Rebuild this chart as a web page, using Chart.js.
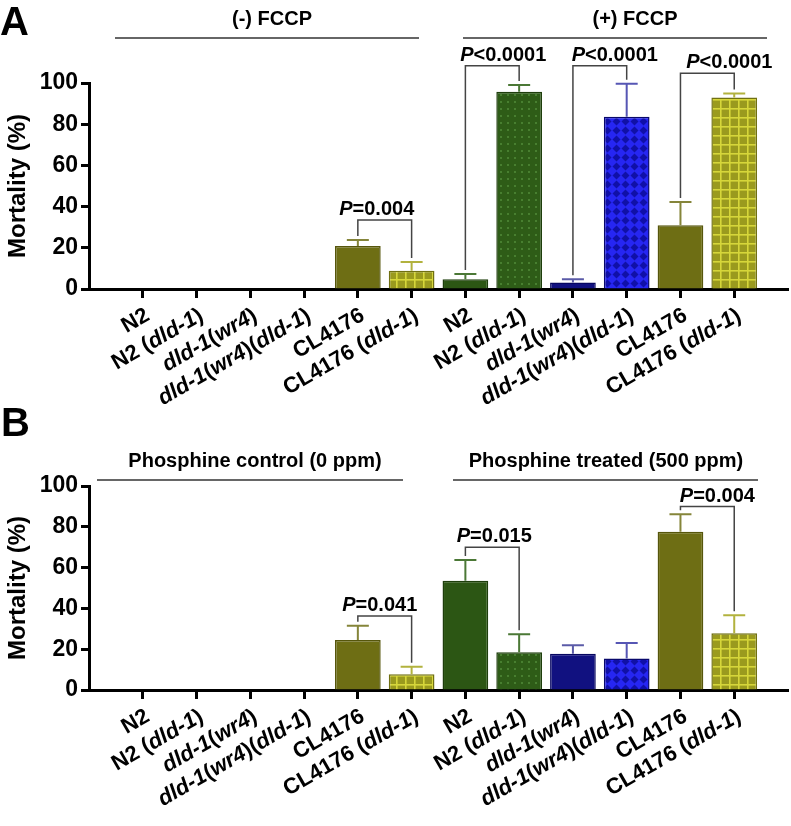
<!DOCTYPE html>
<html>
<head>
<meta charset="utf-8">
<title>Mortality</title>
<script src="https://cdn.jsdelivr.net/npm/chart.js@4.4.0/dist/chart.umd.min.js"></script>
<style>
    body { margin: 0; background: #fff; }
    #wrap { position: relative; width: 791px; height: 826px; }
    #wrap canvas { position: absolute; left: 0; top: 0; }
</style>
</head>
<body>
<div id="wrap">
    <canvas id="chartA" width="791" height="826"></canvas>
    <canvas id="chartB" width="791" height="826"></canvas>
</div>
<script>
// strains, repeated once per treatment group
const strains = ['N2', 'N2 (dld-1)', 'dld-1(wr4)', 'dld-1(wr4)(dld-1)', 'CL4176', 'CL4176 (dld-1)'];
const yTicks = [0, 20, 40, 60, 80, 100];

// Panel A: FCCP
const fccpGroups = ['(-) FCCP', '(+) FCCP'];
const fccpMinus = [0, 0, 0, 0, 20.9, 8.9];
const fccpMinusErr = [0, 0, 0, 0, 2.9, 4.2];
const fccpPlus = [4.7, 95.8, 3.1, 83.6, 30.9, 93.0];
const fccpPlusErr = [2.6, 3.2, 1.6, 16.0, 11.3, 1.9];

// Panel B: phosphine
const phosGroups = ['Phosphine control (0 ppm)', 'Phosphine treated (500 ppm)'];
const phosControl = [0, 0, 0, 0, 24.5, 7.7];
const phosControlErr = [0, 0, 0, 0, 7.0, 3.7];
const phosTreated = [53.6, 18.5, 17.8, 15.5, 77.6, 27.8];
const phosTreatedErr = [10.1, 8.8, 4.1, 7.5, 8.5, 8.8];

// significance brackets: strain positions 0..11, bracket height in %
const fccpPvals = [
    { a: 4, b: 5, level: 33.5, text: '=0.004', dx: -8 },
    { a: 6, b: 7, level: 108.4, text: '<0.0001', dx: 11 },
    { a: 8, b: 9, level: 108.4, text: '<0.0001', dx: 15 },
    { a: 10, b: 11, level: 104.7, text: '<0.0001', dx: 22 }
];
const phosPvals = [
    { a: 4, b: 5, level: 36.3, text: '=0.041', dx: -5 },
    { a: 6, b: 7, level: 70, text: '=0.015', dx: 2 },
    { a: 10, b: 11, level: 89.9, text: '=0.004', dx: 10 }
];

const FONT = '"Liberation Sans", Arial, Helvetica, sans-serif';
Chart.defaults.font.family = FONT;
Chart.defaults.color = '#000';

function tile(size, draw) {
    const c = document.createElement('canvas');
    c.width = c.height = size;
    const g = c.getContext('2d');
    draw(g, size);
    return g.createPattern(c, 'repeat');
}

const dots = tile(7, (g, s) => {
    g.fillStyle = '#2e5c17'; g.fillRect(0, 0, s, s);
    g.fillStyle = '#487f30'; g.fillRect(3, 3, 2, 2);
});
const checker = tile(9, (g, s) => {
    g.fillStyle = '#2626f2'; g.fillRect(0, 0, s, s);
    g.fillStyle = '#1010a8';
    g.beginPath();
    g.moveTo(4.5, 0.5); g.lineTo(8.5, 4.5); g.lineTo(4.5, 8.5); g.lineTo(0.5, 4.5);
    g.closePath(); g.fill();
});
const grid = tile(9, (g, s) => {
    g.fillStyle = '#9a9a1e'; g.fillRect(0, 0, s, s);
    g.fillStyle = '#d6d63a';
    g.fillRect(0, 0, 1.6, s); g.fillRect(0, 0, s, 1.6);
});

const fills = ['#2c5614', dots, '#111180', checker, '#6e6e14', grid];
const borders = ['#1e3e0c', '#1e3e0c', '#070760', '#08086c', '#56560c', '#707012'];
const errColors = ['#4b7836', '#4b7836', '#5b5ba8', '#5656b4', '#85853a', '#b2b23e'];

const errBars = {
    id: 'errBars',
    afterDatasetsDraw(chart, args, o) {
        const ctx = chart.ctx;
        const y = chart.scales.y;
        const vals = chart.data.datasets[0].data;
        chart.getDatasetMeta(0).data.forEach((bar, i) => {
            const e = o.errors[i];
            if (!e) return;
            const top = y.getPixelForValue(vals[i] + e);
            ctx.save();
            ctx.strokeStyle = errColors[(i - 1) % 6];
            ctx.lineWidth = 2;
            ctx.beginPath();
            ctx.moveTo(bar.x, bar.y);
            ctx.lineTo(bar.x, top);
            ctx.moveTo(bar.x - 11, top);
            ctx.lineTo(bar.x + 11, top);
            ctx.stroke();
            ctx.restore();
        });
    }
};

function drawLabel(ctx, label, x0, y0) {
    const parts = label.split(/(dld-1|wr4)/).filter(s => s);
    const fN = 'bold 22px ' + FONT, fI = 'italic bold 22px ' + FONT;
    const fontOf = p => (p === 'dld-1' || p === 'wr4') ? fI : fN;
    const widths = parts.map(p => { ctx.font = fontOf(p); return ctx.measureText(p).width; });
    let cx = -widths.reduce((s, w) => s + w, 0);
    ctx.save();
    ctx.translate(x0, y0);
    ctx.rotate(-30 * Math.PI / 180);
    ctx.textAlign = 'left';
    ctx.textBaseline = 'middle';
    parts.forEach((p, k) => { ctx.font = fontOf(p); ctx.fillText(p, cx, 0); cx += widths[k]; });
    ctx.restore();
}

const marks = {
    id: 'marks',
    afterDraw(chart, args, o) {
        const ctx = chart.ctx, x = chart.scales.x, y = chart.scales.y;
        const area = chart.chartArea;
        const vals = chart.data.datasets[0].data;
        const errs = chart.options.plugins.errBars.errors;
        ctx.save();
        ctx.fillStyle = '#000';

        // panel letter
        ctx.font = 'bold 40px ' + FONT;
        ctx.textAlign = 'left';
        ctx.textBaseline = 'alphabetic';
        ctx.fillText(o.letter, o.letterX, o.letterY);

        // group headers
        ctx.font = 'bold 20px ' + FONT;
        ctx.textAlign = 'center';
        o.headers.forEach(h => {
            ctx.fillText(h.text, h.tx, area.top + o.headerText);
            ctx.strokeStyle = '#333';
            ctx.lineWidth = 1.5;
            ctx.beginPath();
            ctx.moveTo(h.x0, area.top + o.headerLine);
            ctx.lineTo(h.x1, area.top + o.headerLine);
            ctx.stroke();
        });

        // strain labels
        chart.data.labels.forEach((lab, i) => {
            if (!lab) return;
            drawLabel(ctx, lab, x.getPixelForValue(i) + 5, area.bottom + 25);
        });

        // brackets
        o.pvals.forEach(p => {
            const ia = p.a + 1, ib = p.b + 1;
            const xa = x.getPixelForValue(ia), xb = x.getPixelForValue(ib);
            const ya = y.getPixelForValue(vals[ia] + errs[ia]) - 4;
            const yb = y.getPixelForValue(vals[ib] + errs[ib]) - 4;
            const yl = y.getPixelForValue(p.level);
            ctx.strokeStyle = '#444';
            ctx.lineWidth = 1.5;
            ctx.beginPath();
            ctx.moveTo(xa, ya); ctx.lineTo(xa, yl); ctx.lineTo(xb, yl); ctx.lineTo(xb, yb);
            ctx.stroke();
            const fI = 'italic bold 20px ' + FONT, fN = 'bold 20px ' + FONT;
            ctx.font = fI; const w1 = ctx.measureText('P').width;
            ctx.font = fN; const w2 = ctx.measureText(p.text).width;
            let tx = (xa + xb) / 2 + p.dx - (w1 + w2) / 2;
            ctx.textAlign = 'left';
            ctx.font = fI; ctx.fillText('P', tx, yl - 5);
            ctx.font = fN; ctx.fillText(p.text, tx + w1, yl - 5);
        });
        ctx.restore();
    }
};

function makeChart(id, values, errors, top, bottom, extra) {
    const labels = [''].concat(strains, strains, ['']);
    const data = [null].concat(values, [null]);
    const errs = [null].concat(errors, [null]);
    const last = labels.length - 1;
    return new Chart(document.getElementById(id), {
        type: 'bar',
        data: {
            labels: labels,
            datasets: [{
                data: data,
                backgroundColor: c => fills[(c.dataIndex - 1 + 6) % 6],
                borderColor: c => borders[(c.dataIndex - 1 + 6) % 6],
                borderWidth: c => (data[c.dataIndex] ? 1.5 : 0),
                categoryPercentage: 1,
                barPercentage: 0.85
            }]
        },
        options: {
            responsive: false,
            animation: false,
            layout: { padding: { top: top, left: 0, right: 1, bottom: 826 - bottom - 120 } },
            scales: {
                x: {
                    offset: false,
                    afterFit: s => { s.height = 120; },
                    grid: {
                        offset: false,
                        drawOnChartArea: false,
                        tickLength: 9,
                        tickWidth: 3,
                        tickColor: c => (c.index === 0 || c.index === last) ? 'rgba(0,0,0,0)' : '#000'
                    },
                    border: { color: '#000', width: 3 },
                    ticks: { autoSkip: false, maxRotation: 0, callback: () => '' }
                },
                y: {
                    min: 0,
                    max: 100,
                    afterFit: s => { s.width = 89; },
                    afterBuildTicks: s => { s.ticks = yTicks.map(v => ({ value: v })); },
                    grid: { drawOnChartArea: false, tickLength: 8, tickWidth: 3, tickColor: '#000' },
                    border: { color: '#000', width: 3 },
                    ticks: { font: { size: 23, weight: 'bold' }, color: '#000', padding: 3 },
                    title: {
                        display: true,
                        text: 'Mortality (%)',
                        font: { size: 24, weight: 'bold' },
                        color: '#000'
                    }
                }
            },
            plugins: {
                legend: { display: false },
                tooltip: { enabled: false },
                errBars: { errors: errs },
                marks: extra
            }
        },
        plugins: [errBars, marks]
    });
}

makeChart('chartA', fccpMinus.concat(fccpPlus), fccpMinusErr.concat(fccpPlusErr), 83, 289, {
    letter: 'A', letterX: 0, letterY: 35,
    headerText: -58, headerLine: -45,
    headers: [
        { text: fccpGroups[0], tx: 272, x0: 115, x1: 419 },
        { text: fccpGroups[1], tx: 635, x0: 463, x1: 767 }
    ],
    pvals: fccpPvals
});

makeChart('chartB', phosControl.concat(phosTreated), phosControlErr.concat(phosTreatedErr), 486, 690, {
    letter: 'B', letterX: 1, letterY: 436,
    headerText: -19, headerLine: -6,
    headers: [
        { text: phosGroups[0], tx: 255, x0: 97, x1: 403 },
        { text: phosGroups[1], tx: 606, x0: 453, x1: 758 }
    ],
    pvals: phosPvals
});
</script>
</body>
</html>
